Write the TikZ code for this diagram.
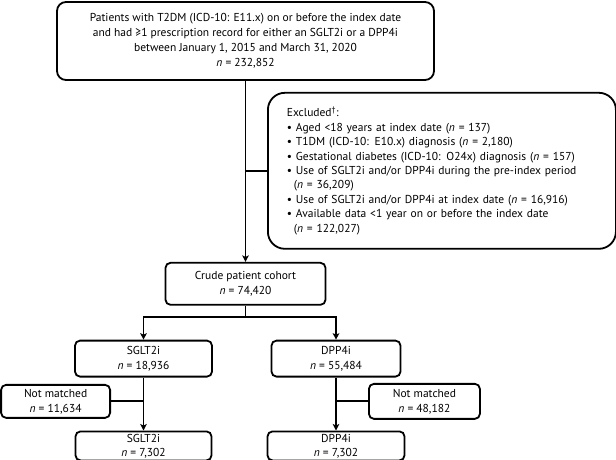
\documentclass[tikz,border=0pt]{standalone}
\usepackage{fontspec}
\setmainfont{PT Sans}
\usepackage{tikz}
\usetikzlibrary{shapes, arrows, arrows.meta, positioning, calc}

\begin{document}
\begin{tikzpicture}[
        x=1pt, y=1pt,
        box/.style={rectangle, draw, rounded corners=5pt, line width=1.8pt, align=center, inner sep=2pt, font=\fontsize{11.5}{15}\selectfont},
        listbox/.style={rectangle, draw, rounded corners=17pt, line width=1.8pt, align=left, text width=310pt, inner xsep=19pt, minimum height=156pt, font=\fontsize{11.5}{14.4}\selectfont},
        line/.style={line width=1.8pt},
        arrow/.style={->, line width=1.8pt, >={Stealth[length=6.5pt, width=6.5pt, inset=1.5pt]}}
        ]
        \useasboundingbox (0,0) rectangle (616,-459);

        \node[box, rounded corners=9pt, minimum width=377pt, minimum height=78pt] (patients) at (245.5,-41) {Patients with T2DM (ICD-10: E11.x) on or before the index date\\and had ≥1 prescription record for either an SGLT2i or a DPP4i\\between January 1, 2015 and March 31, 2020\\\textit{n} = 232,852};
        \node[listbox, below right=11pt and 21.5pt of patients.south] (excluded) {Excluded\textsuperscript{†}:\\
            • Aged <18 years at index date (\textit{n} = 137)\\
            • T1DM (ICD-10: E10.x) diagnosis (\textit{n} = 2,180)\\
            • Gestational diabetes (ICD-10: O24x) diagnosis (\textit{n} = 157)\\
            • Use of SGLT2i and/or DPP4i during the pre-index period\\
            \hspace*{7pt}(\textit{n} = 36,209)\\
            • Use of SGLT2i and/or DPP4i at index date (\textit{n} = 16,916)\\
            • Available data <1 year on or before the index date\\
            \hspace*{7pt}(\textit{n} = 122,027)};
        \node[box, minimum width=160pt, minimum height=42pt, below=181pt of patients] (crude) {Crude patient cohort\\\textit{n} = 74,420};
        \node[box, minimum width=137pt, minimum height=36pt, below=34pt of crude.south, xshift=-102pt] (sglt) {SGLT2i\\\textit{n} = 18,936};
        \node[box, minimum width=129pt, minimum height=36pt, below=34pt of crude.south, xshift=90.5pt] (dpp) {DPP4i\\\textit{n} = 55,484};
        \node[box, inner ysep=0pt, font=\fontsize{11.5}{14}\selectfont, minimum width=136pt, minimum height=29pt, below=53pt of sglt] (sgltmatched) {SGLT2i\\\textit{n} = 7,302};
        \node[box, inner ysep=0pt, font=\fontsize{11.5}{14}\selectfont, minimum width=137pt, minimum height=29pt, below=53pt of dpp] (dppmatched) {DPP4i\\\textit{n} = 7,302};
        \coordinate (sgltjoin) at ($(sglt.south)!0.45!(sgltmatched.north)$);
        \coordinate (dppjoin) at ($(dpp.south)!0.45!(dppmatched.north)$);
        \node[box, minimum width=109pt, minimum height=33pt, left=32.5pt of sgltjoin] (sgltnot) {Not matched\\\textit{n} = 11,634};
        \node[box, minimum width=111pt, minimum height=35pt, right=32pt of dppjoin] (dppnot) {Not matched\\\textit{n} = 48,182};

        \draw[arrow] (patients) -- (crude);
        \draw[line] (patients.south |- excluded.west) -- (excluded.west);
        \draw[line] (crude.south) -- ++(0,-11) coordinate (split);
        \draw[arrow] (split) -| (sglt.north);
        \draw[arrow] (split) -| (dpp.north);
        \draw[arrow] (sglt) -- (sgltmatched);
        \draw[arrow] (dpp) -- (dppmatched);
        \draw[line] (sgltnot) -- (sgltjoin);
        \draw[line] (dppnot) -- (dppjoin);

    \end{tikzpicture}
\end{document}
